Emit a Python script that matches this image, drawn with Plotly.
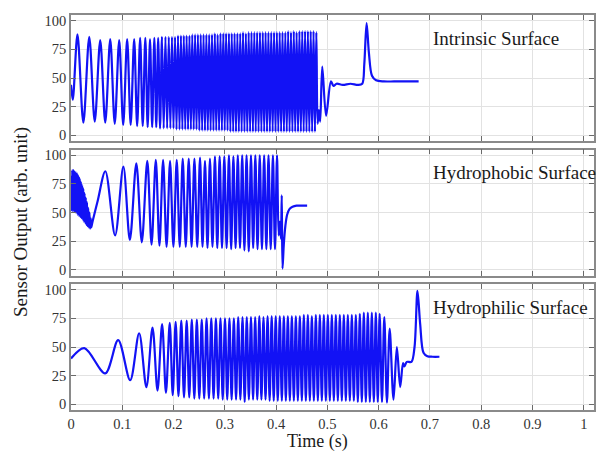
import plotly.graph_objects as go

# ---------------- Intrinsic surface (top panel) ----------------
intr_peak_t = [0.0126, 0.0356, 0.0570, 0.0765, 0.0940, 0.1095, 0.1232, 0.1348, 0.1449, 0.1541,
               0.1625, 0.1700, 0.1774, 0.1842, 0.1907, 0.1969, 0.2029, 0.2087, 0.2144, 0.2200,
               0.2255, 0.2310, 0.2365, 0.2420, 0.2475, 0.2530, 0.2585, 0.2640, 0.2695, 0.2750,
               0.2805, 0.2860, 0.2915, 0.2970, 0.3025, 0.3080, 0.3135, 0.3190, 0.3245, 0.3300,
               0.3355, 0.3410, 0.3465, 0.3520, 0.3575, 0.3630, 0.3685, 0.3740, 0.3795, 0.3850,
               0.3905, 0.3960, 0.4015, 0.4070, 0.4125, 0.4180, 0.4235, 0.4290, 0.4345, 0.4400,
               0.4455, 0.4510, 0.4565, 0.4620, 0.4675, 0.4730, 0.4785]
intr_peak_v = [88, 86, 83, 84, 83, 84, 84, 85, 85, 84, 85, 85, 86, 86, 86, 86, 86, 87, 87, 87,
               87, 87, 88, 88, 88, 88, 88, 88, 88, 88,
               89, 88, 89, 89, 89, 89, 89, 89, 89, 89,
               90, 89, 90, 90, 90, 90, 90, 90, 90, 90,
               90, 90, 90, 90, 90, 90, 91, 90, 91, 90,
               91, 91, 91, 91, 91, 91, 90]
intr_trough_t = [0.0241, 0.0463, 0.0668, 0.0853, 0.1018, 0.1164, 0.1290, 0.1399, 0.1495, 0.1583,
                 0.1663, 0.1737, 0.1808, 0.1875, 0.1938, 0.1999, 0.2058, 0.2116, 0.2172,
                 0.2228, 0.2283, 0.2338, 0.2393, 0.2448, 0.2503, 0.2558, 0.2613, 0.2668, 0.2723,
                 0.2778, 0.2833, 0.2888, 0.2943, 0.2998, 0.3053, 0.3108, 0.3163, 0.3218, 0.3273,
                 0.3328, 0.3383, 0.3438, 0.3493, 0.3548, 0.3603, 0.3658, 0.3713, 0.3768, 0.3823,
                 0.3878, 0.3933, 0.3988, 0.4043, 0.4098, 0.4153, 0.4208, 0.4263, 0.4318, 0.4373,
                 0.4428, 0.4483, 0.4538, 0.4593, 0.4648, 0.4703, 0.4758]
intr_trough_v = [11, 12, 11, 10, 9, 9, 8, 8, 7, 7, 7, 6, 6, 6, 6, 6, 5, 5, 5,
                 5, 5, 5, 5, 5, 4, 4, 4, 4, 4,
                 4, 4, 4, 4, 4, 4, 3, 3, 3, 3,
                 3, 3, 3, 3, 3, 3, 3, 3, 3, 3,
                 3, 3, 3, 3, 3, 3, 3, 3, 3, 3,
                 3, 3, 3, 3, 3, 3, 3]
intr_other_t = [0.0000, 0.0035, 0.4810, 0.4835, 0.4860, 0.4900, 0.4975, 0.5070, 0.5120, 0.5180,
                0.5300, 0.5450, 0.5600, 0.5680, 0.5720, 0.5765, 0.5810, 0.5870, 0.5950, 0.6100,
                0.6300, 0.6500, 0.6780]
intr_other_v = [44, 31, 10, 22, 12, 60, 17, 47, 43, 45,
                44, 45, 44, 45, 62, 98, 72, 52, 48, 47,
                47, 47, 47]

# ---------------- Hydrophobic surface (middle panel) ----------------
phob_peak_t = [0.0670, 0.1021, 0.1274, 0.1488, 0.1654, 0.1796, 0.1932, 0.2062, 0.2179, 0.2296,
               0.2407, 0.2516, 0.2613, 0.2710, 0.2807, 0.2899, 0.2990, 0.3080, 0.3167, 0.3253,
               0.3339, 0.3424, 0.3510, 0.3595, 0.3681, 0.3767, 0.3852, 0.3938, 0.4018]
phob_peak_v = [86, 90, 93, 95, 96, 96, 95, 96, 97, 97,
               97, 98, 95, 97, 99, 99, 99, 100, 99, 100,
               100, 100, 100, 100, 100, 100, 100, 100, 100]
phob_trough_t = [0.0860, 0.1148, 0.1381, 0.1571, 0.1725, 0.1864, 0.1997, 0.2121, 0.2238, 0.2352,
                 0.2462, 0.2565, 0.2662, 0.2759, 0.2853, 0.2945, 0.3035, 0.3124, 0.3210, 0.3296,
                 0.3382, 0.3467, 0.3553, 0.3638, 0.3724, 0.3810, 0.3895, 0.3978]
phob_trough_v = [30, 26, 24, 22, 21, 20, 20, 20, 20, 20,
                 20, 20, 19, 20, 19, 19, 19, 18, 19, 19,
                 17, 16, 19, 18, 18, 18, 18, 18]
phob_other_t = [0.0000, 0.0012, 0.0024, 0.0036, 0.0048, 0.0060, 0.0072, 0.0084, 0.0096, 0.0108,
                0.0120, 0.0132, 0.0144, 0.0156, 0.0168, 0.0180, 0.0192, 0.0204, 0.0216, 0.0228,
                0.0240, 0.0252, 0.0264, 0.0276, 0.0288, 0.0300, 0.0312, 0.0324, 0.0336, 0.0348,
                0.0360, 0.0372, 0.0384, 0.0396, 0.0410, 0.0520,
                0.4050, 0.4075, 0.4095, 0.4110, 0.4125, 0.4150, 0.4180, 0.4215, 0.4260, 0.4320,
                0.4400, 0.4500, 0.4605]
phob_other_v = [82, 52, 87, 51, 87, 51, 86, 50, 85, 50,
                84, 48, 82, 47, 80, 46, 77, 45, 74, 44,
                71, 42, 67, 41, 63, 39, 59, 38, 54, 37,
                50, 36, 45, 37, 40, 60,
                30, 42, 27, 65, 1, 22, 38, 48, 53, 55,
                56, 56, 56]

# ---------------- Hydrophilic surface (bottom panel) ----------------
phil_peak_t = [0.0260, 0.0920, 0.1329, 0.1590, 0.1777, 0.1926,
               0.2041, 0.2151, 0.2256, 0.2356, 0.2454, 0.2550, 0.2644, 0.2736, 0.2826, 0.2915,
               0.3003, 0.3090, 0.3176, 0.3261, 0.3345, 0.3428, 0.3510, 0.3592, 0.3673, 0.3754,
               0.3834, 0.3914, 0.3993, 0.4072, 0.4151, 0.4229, 0.4307, 0.4385, 0.4463, 0.4541,
               0.4619, 0.4697, 0.4775, 0.4853, 0.4931, 0.5009, 0.5087, 0.5165, 0.5243, 0.5321,
               0.5399, 0.5477, 0.5555, 0.5633, 0.5711, 0.5789, 0.5867, 0.5945,
               0.6020, 0.6110, 0.6215, 0.6355]
phil_peak_v = [49, 56, 62, 67, 70, 71,
               72, 73, 73, 74, 74, 74, 75, 75, 75, 75,
               75, 75, 75, 76, 76, 76, 76, 76, 77, 76,
               77, 77, 77, 77, 77, 77, 77, 77, 77, 78,
               78, 77, 78, 78, 78, 78, 78, 78, 78, 78,
               78, 78, 78, 79, 80, 80, 80, 80,
               79, 76, 66, 50]
phil_trough_t = [0.0667, 0.1154, 0.1470, 0.1687, 0.1852,
                 0.1984, 0.2096, 0.2204, 0.2306, 0.2405, 0.2502, 0.2597, 0.2690, 0.2781, 0.2871,
                 0.2959, 0.3047, 0.3133, 0.3219, 0.3303, 0.3387, 0.3469, 0.3551, 0.3633, 0.3714,
                 0.3794, 0.3874, 0.3954, 0.4033, 0.4112, 0.4190, 0.4268, 0.4346, 0.4424, 0.4502,
                 0.4580, 0.4658, 0.4736, 0.4814, 0.4892, 0.4970, 0.5048, 0.5126, 0.5204, 0.5282,
                 0.5360, 0.5438, 0.5516, 0.5594, 0.5672, 0.5750, 0.5828, 0.5906, 0.5983,
                 0.6065, 0.6162, 0.6290, 0.6420]
phil_trough_v = [27, 21, 15, 12, 10,
                 8, 7, 6, 6, 5, 5, 5, 5, 5, 5,
                 4, 4, 4, 4, 4, 2, 4, 4, 4, 4,
                 4, 3, 3, 3, 3, 3, 3, 3, 3, 3,
                 3, 3, 3, 3, 3, 3, 3, 3, 3, 3,
                 3, 3, 3, 2, 2, 2, 2, 2, 2,
                 2, 1.5, 4, 15]
phil_other_t = [0.0000, 0.6475, 0.6500, 0.6550, 0.6640, 0.6700, 0.6757, 0.6810, 0.6875, 0.6950,
                0.7050, 0.7185]
phil_other_v = [40, 36, 33, 37, 37, 50, 99, 70, 45, 42,
                41.5, 41.5]

panel_labels = ["Intrinsic Surface", "Hydrophobic Surface", "Hydrophilic Surface"]
x_tick_vals = [0, 0.1, 0.2, 0.3, 0.4, 0.5, 0.6, 0.7, 0.8, 0.9, 1]
x_tick_text = ["0", "0.1", "0.2", "0.3", "0.4", "0.5", "0.6", "0.7", "0.8", "0.9", "1"]
y_tick_vals = [0, 25, 50, 75, 100]
x_title = "Time (s)"
y_title = "Sensor Output (arb. unit)"


def merged(*pairs):
    pts = []
    for t, v in pairs:
        pts.extend(zip(t, v))
    pts.sort(key=lambda p: p[0])
    return [p[0] for p in pts], [p[1] for p in pts]


series = [
    merged((intr_peak_t, intr_peak_v), (intr_trough_t, intr_trough_v), (intr_other_t, intr_other_v)),
    merged((phob_peak_t, phob_peak_v), (phob_trough_t, phob_trough_v), (phob_other_t, phob_other_v)),
    merged((phil_peak_t, phil_peak_v), (phil_trough_t, phil_trough_v), (phil_other_t, phil_other_v)),
]

LINE = "rgb(18,18,245)"
SERIF = "Liberation Serif"

fig = go.Figure()
suffixes = ["", "2", "3"]
for (tx, vy), s in zip(series, suffixes):
    fig.add_trace(go.Scatter(
        x=tx, y=vy, mode="lines", xaxis="x" + s, yaxis="y" + s,
        line=dict(color=LINE, width=2.2, shape="spline", smoothing=0.9),
        showlegend=False, hoverinfo="skip",
    ))

H = 395.0
domains = [[269 / H, 1.0], [134.5 / H, 260.5 / H], [0.0, 126 / H]]

axis_common = dict(
    showline=True, linecolor="#8a8a8a", linewidth=1.5, mirror="ticks",
    ticks="inside", ticklen=5, tickcolor="#6a6a6a", tickwidth=1,
    showgrid=True, gridcolor="#e2e2e2", gridwidth=1, zeroline=False,
    tickfont=dict(family=SERIF, size=14.5, color="#333333"),
)

layout = dict(
    width=596, height=452,
    margin=dict(l=71, r=2, t=15, b=42),
    paper_bgcolor="white", plot_bgcolor="white",
    showlegend=False,
)
for i, s in enumerate(suffixes):
    layout["xaxis" + s] = dict(
        axis_common, range=[0, 1.02], tickvals=x_tick_vals, ticktext=x_tick_text,
        anchor="y" + s, domain=[0, 1], showticklabels=(i == 2), automargin=False,
        **({} if i == 0 else {"matches": "x"}),
    )
    layout["yaxis" + s] = dict(
        axis_common, range=[-5, 105], tickvals=y_tick_vals,
        anchor="x" + s, domain=domains[i], automargin=False,
    )

annotations = []
for lab, s in zip(panel_labels, suffixes):
    annotations.append(dict(
        text=lab, x=0.703, y=84.5, xref="x" + s, yref="y" + s,
        xanchor="left", yanchor="middle", showarrow=False,
        font=dict(family=SERIF, size=19, color="#1a1a1a"),
    ))
annotations.append(dict(
    text=x_title, x=(317 - 71) / 523, y=(410 - 441) / H, xref="paper", yref="paper",
    xanchor="center", yanchor="middle", showarrow=False,
    font=dict(family=SERIF, size=18, color="#1a1a1a"),
))
annotations.append(dict(
    text=y_title, x=(21 - 71) / 523, y=(410 - 222) / H, xref="paper", yref="paper",
    xanchor="center", yanchor="middle", showarrow=False, textangle=-90,
    font=dict(family=SERIF, size=19, color="#1a1a1a"),
))
layout["annotations"] = annotations

fig.update_layout(**layout)
fig.write_html(
    "out.html",
    config={"displayModeBar": False},
    post_script="document.body.style.margin='0';document.body.style.padding='0';",
)
